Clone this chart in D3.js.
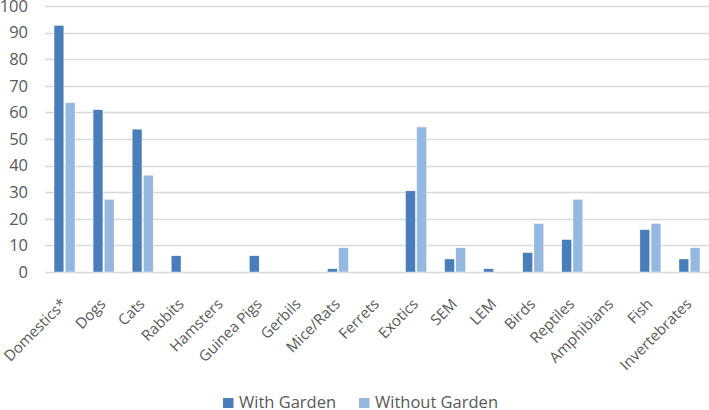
<!DOCTYPE html>
<html>
<head>
<meta charset="utf-8">
<script src="https://cdn.jsdelivr.net/npm/d3@7"></script>
<style>
  body { margin: 0; background: #fff; }
  svg text { font-family: "Open Sans", sans-serif; fill: #595959; }
</style>
</head>
<body>
<div id="chart"></div>
<script>
// categories and values (percent)
const categories = ['Domestics*', 'Dogs', 'Cats', 'Rabbits', 'Hamsters', 'Guinea Pigs', 'Gerbils',
  'Mice/Rats', 'Ferrets', 'Exotics', 'SEM', 'LEM', 'Birds', 'Reptiles', 'Amphibians', 'Fish', 'Invertebrates']
const withGarden = [92.7, 61.0, 53.7, 6.1, 0, 6.1, 0, 1.2, 0, 30.5, 4.9, 1.2, 7.3, 12.2, 0, 15.9, 4.9]
const withoutGarden = [63.6, 27.3, 36.4, 0, 0, 0, 0, 9.1, 0, 54.5, 9.1, 0, 18.2, 27.3, 0, 18.2, 9.1]
const seriesNames = ['With Garden', 'Without Garden']
const colors = ['#4a7ebb', '#95b8e0']
const yTicks = [0, 10, 20, 30, 40, 50, 60, 70, 80, 90, 100]

const w = 709, h = 410
const margin = {top: 6, left: 45, right: 0, bottom: 138}

const svg = d3.select('#chart').append('svg').attr('width', w).attr('height', h)

const y = d3.scaleLinear().domain([0, 100]).range([h - margin.bottom, margin.top])
const x0 = d3.scaleBand().domain(categories).range([margin.left, w - margin.right])
const x1 = d3.scaleBand().domain(seriesNames)
  .range([x0.bandwidth() / 2 - 10.5, x0.bandwidth() / 2 + 10.5]).paddingInner(0.12)

// gridlines
svg.append('g').selectAll('line').data(yTicks).enter().append('line')
  .attr('x1', margin.left).attr('x2', w - margin.right)
  .attr('y1', d => Math.round(y(d)) + 0.5).attr('y2', d => Math.round(y(d)) + 0.5)
  .attr('stroke', '#d9d9d9').attr('stroke-width', 1.3)

// y axis labels
const yAxis = svg.append('g').attr('transform', `translate(${margin.left},0)`)
  .call(d3.axisLeft(y).tickValues(yTicks).tickSize(0).tickPadding(17))
yAxis.select('.domain').remove()
yAxis.selectAll('text').attr('font-size', '16.5px').attr('fill', '#595959')
  .style('font-family', '"Open Sans", sans-serif')

// bars
const series = [withGarden, withoutGarden]
series.forEach((vals, s) => {
  svg.append('g').selectAll('rect').data(vals).enter().append('rect')
    .attr('x', (d, i) => x0(categories[i]) + x1(seriesNames[s]))
    .attr('y', d => y(d))
    .attr('width', x1.bandwidth())
    .attr('height', d => y(0) - y(d))
    .attr('fill', colors[s])
    .attr('stroke', '#fff').attr('stroke-width', 0.4)
})

// x labels, rotated
const xAxis = svg.append('g').attr('transform', `translate(0,${y(0)})`)
  .call(d3.axisBottom(x0).tickSize(0).tickPadding(0))
xAxis.select('.domain').remove()
xAxis.selectAll('text')
  .attr('font-size', '15px')
  .style('font-family', '"Open Sans", sans-serif')
  .attr('text-anchor', 'end')
  .attr('dy', null)
  .attr('y', null)
  .attr('transform', 'translate(3,33) rotate(-45)')

// legend
const legend = svg.append('g')
const legendX = [223, 359]
seriesNames.forEach((name, s) => {
  legend.append('rect').attr('x', legendX[s]).attr('y', 398).attr('width', 10.5).attr('height', 10)
    .attr('fill', colors[s])
  legend.append('text').attr('x', legendX[s] + 16).attr('y', 407.5).attr('font-size', '16.5px').text(name)
})
</script>
</body>
</html>
